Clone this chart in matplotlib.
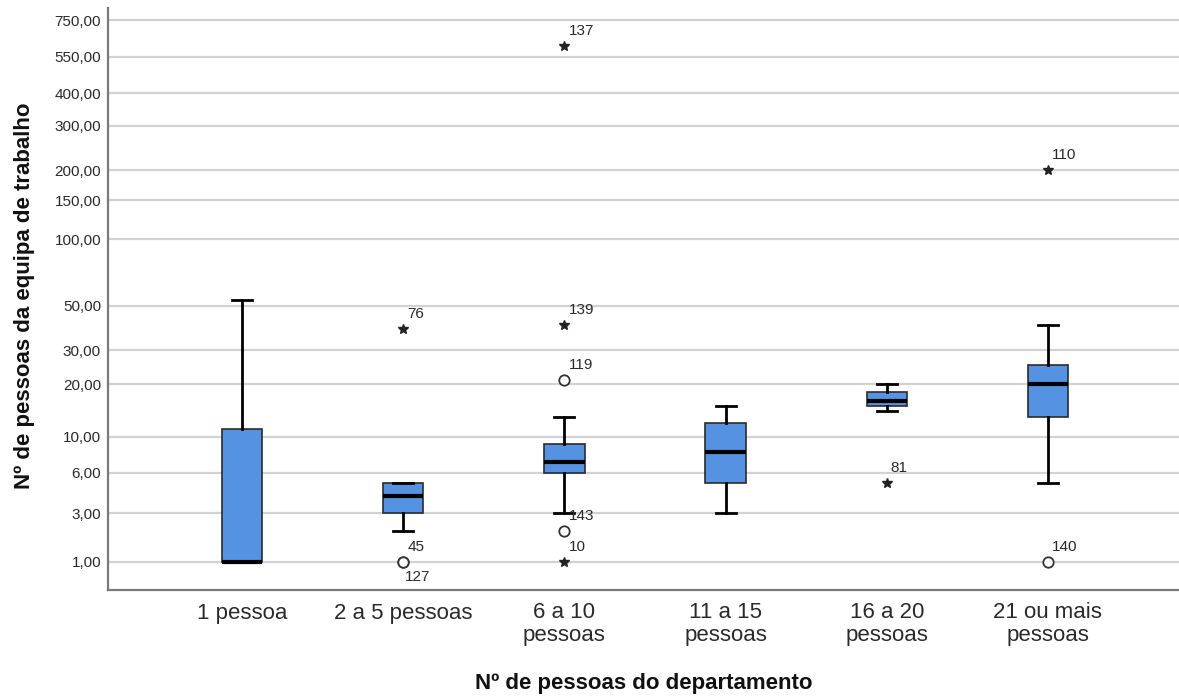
import numpy as np
import matplotlib
matplotlib.use("Agg")
import matplotlib.pyplot as plt

plt.rcParams['font.family'] = ['Liberation Sans', 'DejaVu Sans']

# ---- data ----
categories = ["1 pessoa", "2 a 5 pessoas", "6 a 10\npessoas", "11 a 15\npessoas",
              "16 a 20\npessoas", "21 ou mais\npessoas"]
q1 = [1, 3, 6, 5, 15, 13]
median = [1, 4, 7, 8, 16, 20]
q3 = [11, 5, 9, 12, 18, 25]
whisker_low = [1, 2, 3, 3, 14, 5]
whisker_high = [53, 5, 13, 15, 20, 40]

# outliers: group (1-based), value, case id, extreme (star) or not (circle)
out_group = [2, 2, 2, 3, 3, 3, 3, 3, 5, 6, 6]
out_value = [38, 1, 1, 600, 40, 21, 2, 1, 5, 200, 1]
out_id = [76, 45, 127, 137, 139, 119, 143, 10, 81, 110, 140]
out_extreme = [True, False, False, True, True, False, False, True, True, True, False]

# y axis: SPSS custom scale, tick values and their heights above the "1,00" line
tick_values = [1, 3, 6, 10, 20, 30, 50, 100, 150, 200, 300, 400, 550, 750]
tick_height = [0, 48.4, 89, 125, 177.4, 211.7, 256, 322.4, 361.7, 391.7, 436, 468.4, 505, 541.7]

# ---- scale functions (piecewise in log space, linear extrapolation) ----
lk = np.log10(tick_values)
hk = np.array(tick_height, dtype=float)
slope_lo = (hk[1] - hk[0]) / (lk[1] - lk[0])
slope_hi = (hk[-1] - hk[-2]) / (lk[-1] - lk[-2])


def fwd(v):
    lv = np.log10(np.clip(np.asarray(v, dtype=float), 1e-6, None))
    h = np.interp(lv, lk, hk)
    h = np.where(lv < lk[0], hk[0] + (lv - lk[0]) * slope_lo, h)
    h = np.where(lv > lk[-1], hk[-1] + (lv - lk[-1]) * slope_hi, h)
    return h


def inv(h):
    h = np.asarray(h, dtype=float)
    lv = np.interp(h, hk, lk)
    lv = np.where(h < hk[0], lk[0] + (h - hk[0]) / slope_lo, lv)
    lv = np.where(h > hk[-1], lk[-1] + (h - hk[-1]) / slope_hi, lv)
    return 10 ** lv


# ---- figure ----
fig = plt.figure(figsize=(11.79, 6.97), dpi=100)
ax = fig.add_axes([108 / 1179, 107 / 697, 1071 / 1179, 582 / 697])
ax.set_yscale('function', functions=(fwd, inv))

positions = np.arange(1, len(categories) + 1)
stats = []
for i in range(len(categories)):
    stats.append(dict(q1=q1[i], med=median[i], q3=q3[i],
                      whislo=whisker_low[i], whishi=whisker_high[i], fliers=[]))

ax.bxp(stats, positions=positions, widths=0.25, patch_artist=True, showfliers=False,
       boxprops=dict(facecolor='#5592e2', edgecolor='#2b2b2b', linewidth=1.2),
       medianprops=dict(color='black', linewidth=3, solid_capstyle='butt'),
       whiskerprops=dict(color='black', linewidth=2),
       capprops=dict(color='black', linewidth=2),
       capwidths=0.125)

# outliers + case labels
for g, v, cid, ext in zip(out_group, out_value, out_id, out_extreme):
    if ext:
        ax.plot(g, v, marker='*', markersize=7.5, color='#222222', linestyle='none', zorder=4)
    else:
        ax.plot(g, v, marker='o', markersize=7.5, markerfacecolor='white',
                markeredgecolor='#333333', markeredgewidth=1.3, linestyle='none', zorder=4)
    if cid == 127:
        ax.annotate(str(cid), (g, v), xytext=(2, -8), textcoords='offset pixels',
                    ha='left', va='top', fontsize=11, color='#2a2a2a')
    else:
        ax.annotate(str(cid), (g, v), xytext=(4, 8), textcoords='offset pixels',
                    ha='left', va='bottom', fontsize=11, color='#2a2a2a')

# axes styling
ax.set_xlim(1 - 134 / 161, 6 + 131 / 161)
ax.set_ylim(inv(-28.3), inv(553.7))
ax.set_yticks(tick_values)
ax.set_yticklabels([f"{v:.2f}".replace('.', ',') for v in tick_values])
ax.yaxis.set_minor_locator(matplotlib.ticker.NullLocator())
ax.set_xticks(positions)
ax.set_xticklabels(categories, linespacing=1.1)

ax.tick_params(axis='y', length=0, pad=5, labelsize=11, labelcolor='#2a2a2a')
ax.tick_params(axis='x', length=0, pad=9, labelsize=16, labelcolor='#2a2a2a')

ax.grid(axis='y', color='#d2d2d2', linewidth=1.6)
ax.set_axisbelow(True)
for s in ['top', 'right']:
    ax.spines[s].set_visible(False)
for s in ['left', 'bottom']:
    ax.spines[s].set_color('#7a7a7a')
    ax.spines[s].set_linewidth(1.6)

ax.set_xlabel("Nº de pessoas do departamento", fontsize=16, fontweight='bold',
              color='#111111', va='center')
ax.xaxis.set_label_coords(0.5, -(683 - 590) / 582)
ax.set_ylabel("Nº de pessoas da equipa de trabalho", fontsize=16, fontweight='bold',
              color='#111111', va='center')
ax.yaxis.set_label_coords(-(108 - 25) / 1071, (590 - 296) / 582)

fig.savefig("out.png", dpi=100)
